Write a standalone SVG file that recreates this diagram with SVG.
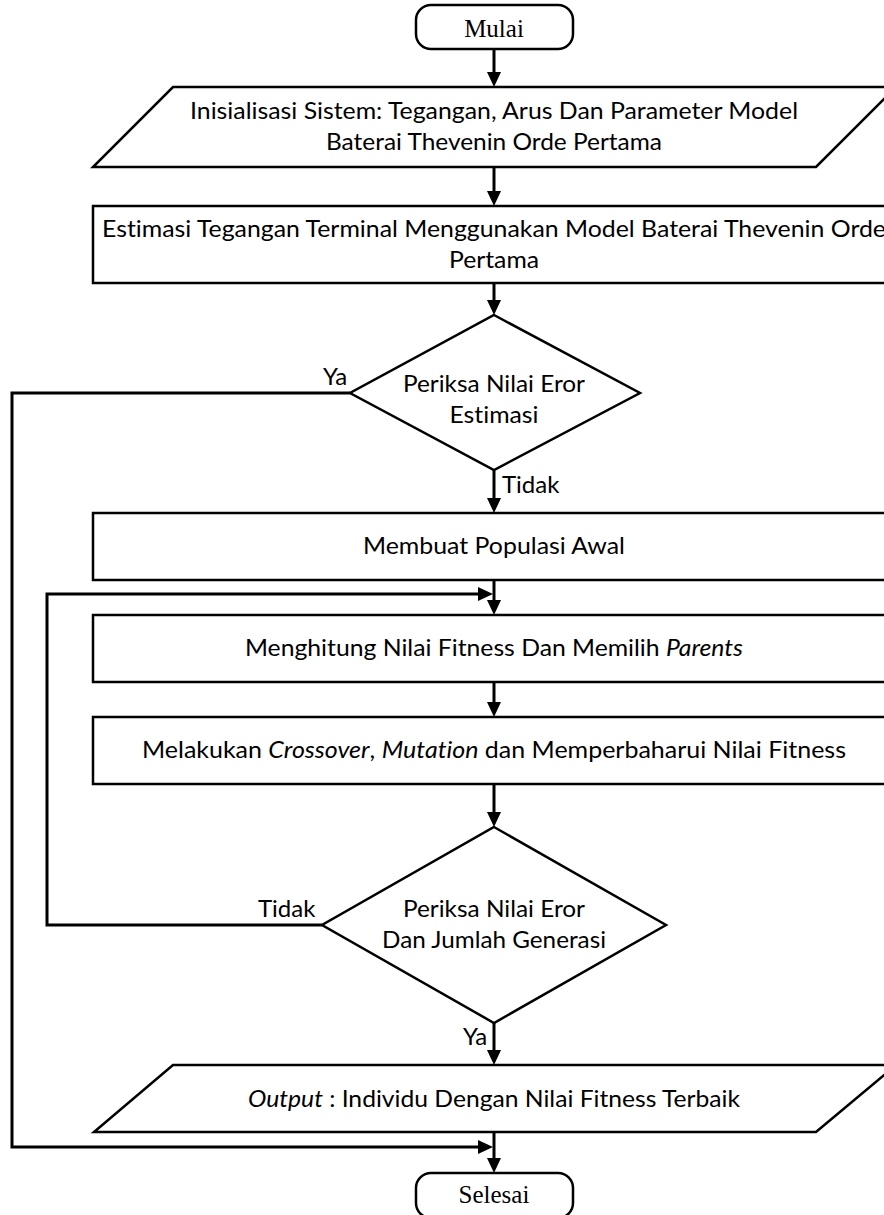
<svg xmlns="http://www.w3.org/2000/svg" width="884" height="1215" viewBox="0 0 884 1215">
<defs>
<style>
.shape{fill:#fff;stroke:#000;stroke-width:2.5;stroke-linejoin:miter}
.conn{fill:none;stroke:#000;stroke-width:3}
.t{font-family:Lato,"Open Sans","Liberation Sans",sans-serif;font-size:24px;fill:#000;font-variant-ligatures:none;font-feature-settings:"liga" 0,"clig" 0}
.m{text-anchor:middle}
.serif{font-family:"Liberation Serif","Times New Roman",serif;font-size:25px;fill:#000;text-anchor:middle}
.i{font-style:italic}
</style>
<marker id="ah" viewBox="0 0 15 14" refX="5" refY="7" markerWidth="15" markerHeight="14" markerUnits="userSpaceOnUse" orient="auto">
<path d="M0,0 L15,7 L0,14 z" fill="#000"/>
</marker>
</defs>
<rect width="884" height="1215" fill="#fff"/>

<g id="connectors">
<path class="conn" d="M494,49 V77" marker-end="url(#ah)"/>
<path class="conn" d="M494,167 V196" marker-end="url(#ah)"/>
<path class="conn" d="M494,283 V305" marker-end="url(#ah)"/>
<path class="conn" d="M494,470 V503" marker-end="url(#ah)"/>
<path class="conn" d="M494,580 V605" marker-end="url(#ah)"/>
<path class="conn" d="M494,682 V707" marker-end="url(#ah)"/>
<path class="conn" d="M494,784 V817" marker-end="url(#ah)"/>
<path class="conn" d="M494,1023 V1055" marker-end="url(#ah)"/>
<path class="conn" d="M494,1132 V1163" marker-end="url(#ah)"/>
<path class="conn" d="M350,393 H12 V1147 H483" marker-end="url(#ah)"/>
<path class="conn" d="M322,925 H47 V594 H483" marker-end="url(#ah)"/>
<text class="t" x="323" y="385">Ya</text>
<text class="t" x="502" y="493">Tidak</text>
<text class="t" x="258" y="917">Tidak</text>
<text class="t" x="463" y="1045">Ya</text>
</g>

<g id="mulai">
<rect class="shape" x="416" y="5" width="157" height="44" rx="15" ry="15"/>
<text class="serif" x="494" y="37">Mulai</text>
</g>

<g id="inisialisasi">
<polygon class="shape" points="173,87 896,87 816,167 93,167"/>
<text class="t m" x="494" y="119" textLength="608" lengthAdjust="spacingAndGlyphs">Inisialisasi Sistem: Tegangan, Arus Dan Parameter Model</text>
<text class="t m" x="494" y="150" textLength="336" lengthAdjust="spacingAndGlyphs">Baterai Thevenin Orde Pertama</text>
</g>

<g id="estimasi">
<rect class="shape" x="93" y="206" width="802" height="77"/>
<text class="t m" x="494" y="237" textLength="784" lengthAdjust="spacingAndGlyphs">Estimasi Tegangan Terminal Menggunakan Model Baterai Thevenin Orde</text>
<text class="t m" x="494" y="268" textLength="90" lengthAdjust="spacingAndGlyphs">Pertama</text>
</g>

<g id="periksa1">
<polygon class="shape" points="494,315 640,393 494,470 350,393"/>
<text class="t m" x="494" y="392" textLength="182" lengthAdjust="spacingAndGlyphs">Periksa Nilai Eror</text>
<text class="t m" x="494" y="423" textLength="89" lengthAdjust="spacingAndGlyphs">Estimasi</text>
</g>

<g id="populasi">
<rect class="shape" x="93" y="513" width="802" height="67"/>
<text class="t m" x="494" y="554" textLength="262" lengthAdjust="spacingAndGlyphs">Membuat Populasi Awal</text>
</g>

<g id="fitness">
<rect class="shape" x="93" y="615" width="802" height="67"/>
<text class="t m" x="494" y="656" textLength="498" lengthAdjust="spacingAndGlyphs">Menghitung Nilai Fitness Dan Memilih <tspan class="i">Parents</tspan></text>
</g>

<g id="crossover">
<rect class="shape" x="93" y="717" width="802" height="67"/>
<text class="t m" x="494" y="758" textLength="704" lengthAdjust="spacingAndGlyphs">Melakukan <tspan class="i">Crossover</tspan>, <tspan class="i">Mutation</tspan> dan Memperbaharui Nilai Fitness</text>
</g>

<g id="periksa2">
<polygon class="shape" points="494,827 666,925 494,1023 322,925"/>
<text class="t m" x="494" y="917" textLength="182" lengthAdjust="spacingAndGlyphs">Periksa Nilai Eror</text>
<text class="t m" x="494" y="948" textLength="224" lengthAdjust="spacingAndGlyphs">Dan Jumlah Generasi</text>
</g>

<g id="output">
<polygon class="shape" points="173,1065 896,1065 816,1132 94,1132"/>
<text class="t m" x="494" y="1107" textLength="492" lengthAdjust="spacingAndGlyphs"><tspan class="i">Output</tspan> : Individu Dengan Nilai Fitness Terbaik</text>
</g>

<g id="selesai">
<rect class="shape" x="416" y="1173" width="157" height="45" rx="15" ry="15"/>
<text class="serif" x="494" y="1203">Selesai</text>
</g>
</svg>
